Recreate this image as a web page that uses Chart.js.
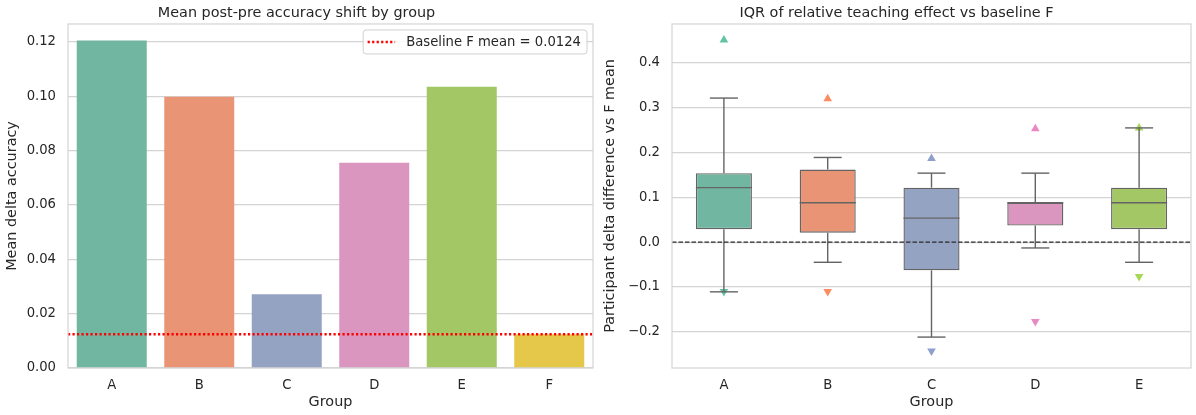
<!DOCTYPE html>
<html>
<head>
<meta charset="utf-8">
<script src="https://cdn.jsdelivr.net/npm/chart.js@4.4.1/dist/chart.umd.min.js"></script>
<style>
  html, body { margin: 0; padding: 0; background: #fff; }
  #wrap { display: flex; width: 1196px; height: 415px; }
  canvas { display: block; }
</style>
</head>
<body>
<div id="wrap">
  <canvas id="graficoMedias" width="598" height="415"></canvas>
  <canvas id="graficoCajas" width="598" height="415"></canvas>
</div>
<script>
// --- datos panel izquierdo ---
const groups = ['A', 'B', 'C', 'D', 'E', 'F'];
const meanDelta = [0.1205, 0.0998, 0.0271, 0.0755, 0.1035, 0.0124];
const baselineF = 0.0124;
const leftTicks = [0, 0.02, 0.04, 0.06, 0.08, 0.10, 0.12];

// --- datos panel derecho (resumen de cajas) ---
const boxGroups = ['A', 'B', 'C', 'D', 'E'];
const whiskerLow = [-0.111, -0.045, -0.212, -0.013, -0.045];
const q1 = [0.029, 0.021, -0.063, 0.037, 0.029];
const median = [0.1216, 0.088, 0.0535, 0.088, 0.088];
const q3 = [0.154, 0.162, 0.1216, 0.088, 0.1216];
const whiskerHigh = [0.3216, 0.189, 0.154, 0.154, 0.255];
const maxVal = [0.4515, 0.320, 0.1866, 0.253, 0.255];
const minVal = [-0.110, -0.110, -0.243, -0.177, -0.077];
const rightTicks = [-0.2, -0.1, 0, 0.1, 0.2, 0.3, 0.4];

const set2 = ['#66c2a5', '#fc8d62', '#8da0cb', '#e78ac3', '#a6d854', '#ffd92f'];
const set2Apagado = ['#71b6a1', '#e99575', '#95a3c3', '#db96c0', '#a2c764', '#e5c849'];

const textColor = '#262626';
const gridColor = '#d4d4d4';
const boxEdge = '#646464';

Chart.defaults.font.family = 'DejaVu Sans';
Chart.defaults.color = textColor;

function fmt(v, d) {
    return v.toFixed(d).replace('-', '\u2212');
}

// marco completo alrededor del área del gráfico
const marco = {
    id: 'marco',
    afterDatasetsDraw(chart, args, opts) {
        const { ctx, chartArea: a, scales: { y } } = chart;
        ctx.save();
        if (opts.refLine) {
            const yy = y.getPixelForValue(opts.refLine.value);
            ctx.strokeStyle = opts.refLine.color;
            ctx.lineWidth = opts.refLine.width;
            ctx.setLineDash(opts.refLine.dash);
            ctx.beginPath();
            ctx.moveTo(a.left, yy);
            ctx.lineTo(a.right, yy);
            ctx.stroke();
            ctx.setLineDash([]);
        }
        ctx.strokeStyle = gridColor;
        ctx.lineWidth = 1.2;
        ctx.strokeRect(a.left, a.top, a.right - a.left, a.bottom - a.top);
        ctx.restore();
    }
};

// leyenda dentro del área (esquina superior derecha)
const leyendaInterna = {
    id: 'leyendaInterna',
    afterDraw(chart, args, opts) {
        if (!opts.text) return;
        const { ctx, chartArea: a } = chart;
        ctx.save();
        ctx.font = '13.2px "DejaVu Sans"';
        const tw = ctx.measureText(opts.text).width;
        const w = tw + 49, h = 24;
        const x = a.right - 6 - w, y0 = a.top + 6;
        ctx.fillStyle = 'rgba(255,255,255,0.85)';
        ctx.strokeStyle = '#d0d0d0';
        ctx.lineWidth = 1;
        ctx.beginPath();
        ctx.roundRect(x, y0, w, h, 3);
        ctx.fill();
        ctx.stroke();
        ctx.strokeStyle = opts.color;
        ctx.lineWidth = 2.4;
        ctx.setLineDash([2.2, 2.3]);
        ctx.beginPath();
        ctx.moveTo(x + 4.5, y0 + h / 2);
        ctx.lineTo(x + 32, y0 + h / 2);
        ctx.stroke();
        ctx.setLineDash([]);
        ctx.fillStyle = textColor;
        ctx.textBaseline = 'middle';
        ctx.fillText(opts.text, x + 43, y0 + h / 2 + 0.5);
        ctx.restore();
    }
};

// bigotes, topes y medianas sobre las barras flotantes
const bigotes = {
    id: 'bigotes',
    afterDatasetDraw(chart, args) {
        if (args.index !== 0) return;
        const { ctx, scales: { y } } = chart;
        const meta = chart.getDatasetMeta(0);
        ctx.save();
        ctx.strokeStyle = boxEdge;
        ctx.lineWidth = 1.4;
        const linea = (x1, y1, x2, y2) => {
            ctx.beginPath();
            ctx.moveTo(x1, y1);
            ctx.lineTo(x2, y2);
            ctx.stroke();
        };
        meta.data.forEach((bar, i) => {
            const cx = bar.x;
            const half = bar.width / 2;
            const cap = half / 2;
            const yHi = y.getPixelForValue(whiskerHigh[i]);
            const yLo = y.getPixelForValue(whiskerLow[i]);
            linea(cx, y.getPixelForValue(q3[i]), cx, yHi);
            linea(cx, y.getPixelForValue(q1[i]), cx, yLo);
            linea(cx - cap, yHi, cx + cap, yHi);
            linea(cx - cap, yLo, cx + cap, yLo);
            const ym = y.getPixelForValue(median[i]);
            linea(cx - half, ym, cx + half, ym);
        });
        ctx.restore();
    }
};

function ejeY(width, min, max, ticks, dec, titulo) {
    return {
        min: min,
        max: max,
        afterFit: (s) => { s.width = width; },
        afterBuildTicks: (s) => { s.ticks = ticks.map(v => ({ value: v })); },
        ticks: {
            padding: 12,
            font: { size: 13.2 },
            color: textColor,
            callback: (v) => fmt(v, dec)
        },
        grid: { color: gridColor, lineWidth: 1.2, drawTicks: false },
        border: { display: false },
        title: { display: true, text: titulo, font: { size: 14.4 }, color: textColor, padding: { top: 4, bottom: 4 } }
    };
}

function ejeX() {
    return {
        afterFit: (s) => { s.height = 47; },
        ticks: { padding: 10, font: { size: 13.2 }, color: textColor },
        grid: { display: false, drawTicks: false },
        border: { display: false },
        title: { display: true, text: 'Group', font: { size: 14.4 }, color: textColor, padding: { top: 4, bottom: 4 } }
    };
}

function titulo(texto) {
    return {
        display: true,
        text: texto,
        font: { size: 14.4, weight: 'normal' },
        color: textColor,
        padding: { top: 5, bottom: 1.7 }
    };
}

new Chart(document.getElementById('graficoMedias'), {
    type: 'bar',
    data: {
        labels: groups,
        datasets: [{
            label: 'Mean delta accuracy',
            data: meanDelta,
            backgroundColor: set2Apagado,
            borderWidth: 0,
            barPercentage: 0.8,
            categoryPercentage: 1
        }]
    },
    options: {
        responsive: false,
        animation: false,
        layout: { padding: { left: 0, right: 5, top: 0, bottom: 0 } },
        plugins: {
            legend: { display: false },
            tooltip: { enabled: false },
            title: titulo('Mean post-pre accuracy shift by group'),
            marco: { refLine: { value: baselineF, color: '#ff0000', width: 2.4, dash: [2.2, 2.3] } },
            leyendaInterna: { text: 'Baseline F mean = ' + baselineF.toFixed(4), color: '#ff0000' }
        },
        scales: {
            x: ejeX(),
            y: ejeY(68, 0, 0.1266, leftTicks, 2, 'Mean delta accuracy')
        }
    },
    plugins: [marco, leyendaInterna]
});

new Chart(document.getElementById('graficoCajas'), {
    type: 'bar',
    data: {
        labels: boxGroups,
        datasets: [
            {
                label: 'IQR',
                data: boxGroups.map((g, i) => [q1[i], q3[i]]),
                backgroundColor: set2Apagado.slice(0, 5),
                borderColor: boxEdge,
                borderWidth: 1.4,
                borderSkipped: false,
                barPercentage: 0.54,
                categoryPercentage: 1
            },
            {
                type: 'line',
                label: 'max',
                data: maxVal,
                showLine: false,
                pointStyle: 'triangle',
                pointRadius: 5,
                pointBackgroundColor: set2.slice(0, 5),
                pointBorderWidth: 0
            },
            {
                type: 'line',
                label: 'min',
                data: minVal,
                showLine: false,
                pointStyle: 'triangle',
                pointRotation: 180,
                pointRadius: 5,
                pointBackgroundColor: set2.slice(0, 5),
                pointBorderWidth: 0
            }
        ]
    },
    options: {
        responsive: false,
        animation: false,
        layout: { padding: { left: 0, right: 1, top: 0, bottom: 0 } },
        plugins: {
            legend: { display: false },
            tooltip: { enabled: false },
            title: titulo('IQR of relative teaching effect vs baseline F'),
            marco: { refLine: { value: 0, color: '#2a2a2a', width: 1.3, dash: [4.5, 2] } }
        },
        scales: {
            x: ejeX(),
            y: ejeY(74, -0.281, 0.487, rightTicks, 1, 'Participant delta difference vs F mean')
        }
    },
    plugins: [bigotes, marco]
});
</script>
</body>
</html>
